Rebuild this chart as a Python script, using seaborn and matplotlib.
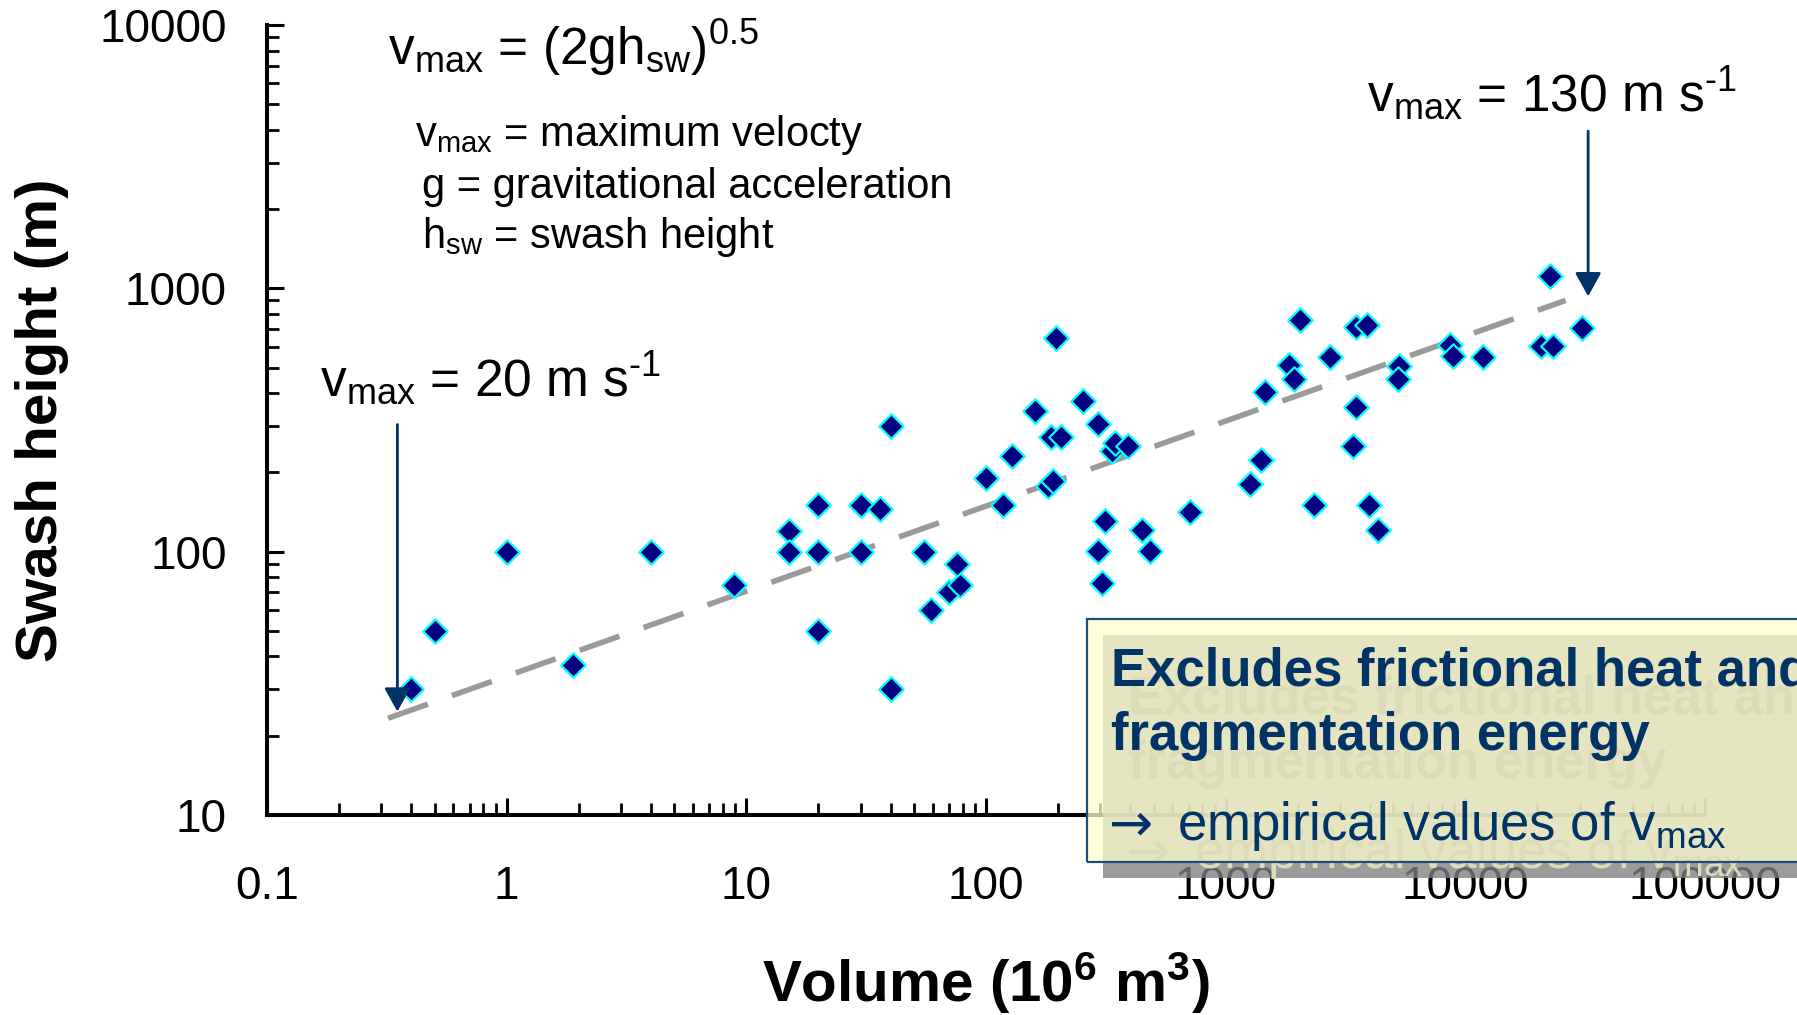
import matplotlib
matplotlib.use("Agg")
import matplotlib.pyplot as plt
from matplotlib.patches import Rectangle
import seaborn as sns
import pandas as pd

# Landslide volume (10^6 m^3) and swash height (m)
volume = [0.40, 0.50, 1.0, 1.9, 4.0, 8.9, 15, 15, 20, 20, 20, 30, 30, 36, 40, 40,
          55, 59, 70, 78, 76, 100, 118, 128, 160, 187, 206, 182, 190, 195, 255,
          293, 335, 347, 392, 313, 292, 304, 446, 485, 708, 1265, 1403, 1454,
          1845, 1928, 2045, 2327, 2716, 3483, 3875, 3498, 3395, 3960, 4341,
          5309, 5213, 8660, 8850, 11880, 20600, 23190, 22580, 30600]
swash = [30, 50, 100, 37, 100, 75, 120, 100, 150, 100, 50, 150, 100, 145, 300, 30,
         100, 60, 70, 75, 90, 190, 150, 230, 343, 272, 272, 178, 185, 650, 375,
         305, 242, 258, 253, 131, 101, 76, 121, 101, 142, 181, 222, 404,
         511, 451, 760, 151, 548, 713, 728, 353, 253, 151, 121,
         509, 454, 608, 553, 548, 606, 606, 1111, 710]

# Trend line endpoints (velocity 20 m/s to 130 m/s)
trend_volume = [0.32, 26240]
trend_height = [23.3, 900]

# Arrow tips / tails pointing at the trend-line ends
arrow_left = dict(x=0.35, y_tip=24.7, y_tail=304)
arrow_right = dict(x=32540, y_tip=933, y_tail=3954)

x_ticks = [0.1, 1, 10, 100, 1000, 10000, 100000]
x_tick_labels = ["0.1", "1", "10", "100", "1000", "10000", "100000"]
y_ticks = [10, 100, 1000, 10000]
y_tick_labels = ["10", "100", "1000", "10000"]

W, H = 1797, 1015
DPI = 100

sns.set_theme(style="white")
plt.rcParams["font.family"] = ["Liberation Sans", "DejaVu Sans"]
plt.rcParams["mathtext.fontset"] = "custom"
plt.rcParams["mathtext.rm"] = "Liberation Sans"
plt.rcParams["mathtext.it"] = "Liberation Sans"
plt.rcParams["mathtext.bf"] = "Liberation Sans:bold"
plt.rcParams["axes.unicode_minus"] = False
plt.rcParams["text.color"] = "black"
plt.rcParams["axes.labelcolor"] = "black"

fig = plt.figure(figsize=(W / DPI, H / DPI), dpi=DPI)
fig.patch.set_facecolor("white")
ax = fig.add_axes([267 / W, 1 - 815 / H, (1705 - 267) / W, (815 - 25) / H])
ax.set_facecolor("white")


def fx(px):
    return px / W


def fy(py):
    return 1 - py / H


df = pd.DataFrame({"volume": volume, "swash": swash})
line_df = pd.DataFrame({"volume": trend_volume, "swash": trend_height})

sns.lineplot(data=line_df, x="volume", y="swash", ax=ax, color="#9a9a9a",
             linewidth=4.0, linestyle=(0, (7.6, 4.6)), dash_capstyle="butt",
             zorder=2, legend=False)
sns.scatterplot(data=df, x="volume", y="swash", ax=ax, marker="D", s=155,
                color="#000080", edgecolor="#00FFFF", linewidth=1.6,
                zorder=3, legend=False)

ax.set_xscale("log")
ax.set_yscale("log")
ax.set_xlim(0.1, 100000)
ax.set_ylim(10, 10000)
ax.set_xticks(x_ticks)
ax.set_xticklabels(x_tick_labels)
ax.set_yticks(y_ticks)
ax.set_yticklabels(y_tick_labels)

for side in ["top", "right"]:
    ax.spines[side].set_visible(False)
for side in ["left", "bottom"]:
    ax.spines[side].set_color("black")
    ax.spines[side].set_linewidth(2.9)

ax.tick_params(axis="both", which="both", bottom=True, left=True, top=False,
               right=False)
ax.tick_params(axis="both", which="major", direction="in", length=12, width=2.2,
               color="black", labelsize=33, labelcolor="black")
ax.tick_params(axis="both", which="minor", direction="in", length=8.5, width=2.0,
               color="black")
ax.tick_params(axis="x", which="major", pad=36)
ax.tick_params(axis="y", which="major", pad=29)

ax.set_xlabel(r"Volume (10$^{\mathbf{6}}$ m$^{\mathbf{3}}$)", fontsize=42,
              fontweight="bold", color="black", labelpad=30)
ax.set_ylabel("Swash height (m)", fontsize=42, fontweight="bold", color="black",
              labelpad=22)

# Velocity arrows
for arr in (arrow_left, arrow_right):
    ax.annotate("", xy=(arr["x"], arr["y_tip"]), xytext=(arr["x"], arr["y_tail"]),
                arrowprops=dict(arrowstyle="-|>,head_length=0.72,head_width=0.4",
                                mutation_scale=20, color="#003366", lw=2.0,
                                shrinkA=0, shrinkB=0), zorder=4)

# Annotation texts
fig.text(fx(320), fy(397), "v$_{\\mathrm{max}}$ = 20 m s$^{\\mathrm{\u20101}}$",
         fontsize=37, color="black", ha="left", va="baseline")
fig.text(fx(1367), fy(112), "v$_{\\mathrm{max}}$ = 130 m s$^{\\mathrm{\u20101}}$",
         fontsize=37, color="black", ha="left", va="baseline")
fig.text(fx(388), fy(65), r"v$_{\mathrm{max}}$ = (2gh$_{\mathrm{sw}}$)$^{\mathrm{0.5}}$",
         fontsize=37, color="black", ha="left", va="baseline")
fig.text(fx(415), fy(146), r"v$_{\mathrm{max}}$ = maximum velocty",
         fontsize=30, color="black", ha="left", va="baseline")
fig.text(fx(422), fy(198), "g = gravitational acceleration",
         fontsize=30, color="black", ha="left", va="baseline")
fig.text(fx(422), fy(248), r"h$_{\mathrm{sw}}$ = swash height",
         fontsize=30, color="black", ha="left", va="baseline")

# Callout box with drop shadow
box_l, box_t, box_b = 1087, 619, 862
shadow_dx, shadow_dy = 16, 16
fig.patches.append(Rectangle((fx(box_l + shadow_dx), fy(box_b + shadow_dy)),
                             fx(W + 50 - box_l - shadow_dx), (box_b - box_t) / H,
                             transform=fig.transFigure, facecolor="#808080",
                             alpha=0.78, edgecolor="none", zorder=10))
fig.patches.append(Rectangle((fx(box_l), fy(box_b)), fx(W + 50 - box_l),
                             (box_b - box_t) / H, transform=fig.transFigure,
                             facecolor="#FFFFD0", alpha=0.75, edgecolor="none",
                             zorder=11))
fig.patches.append(Rectangle((fx(box_l), fy(box_b)), fx(W + 50 - box_l),
                             (box_b - box_t) / H, transform=fig.transFigure,
                             facecolor="none", edgecolor="#1F4E79", linewidth=1.6,
                             zorder=13))

box_lines = [
    ("Excludes frictional heat and", 1111, 685, "bold", None),
    ("fragmentation energy", 1111, 750, "bold", None),
    ("\u2192", 1109, 840, "normal", ["DejaVu Sans"]),
    (r"empirical values of v$_{\mathrm{max}}$", 1177, 840, "normal", None),
]
for txt, left, base, weight, family in box_lines:
    kw = {} if family is None else {"family": family}
    fig.text(fx(left + 17), fy(base + 28), txt, fontsize=38, fontweight=weight,
             color="#DCDCBB", ha="left", va="baseline", zorder=12, **kw)
    fig.text(fx(left), fy(base), txt, fontsize=38, fontweight=weight,
             color="#003366", ha="left", va="baseline", zorder=14, **kw)

fig.savefig("out.png", dpi=DPI, facecolor="white")
